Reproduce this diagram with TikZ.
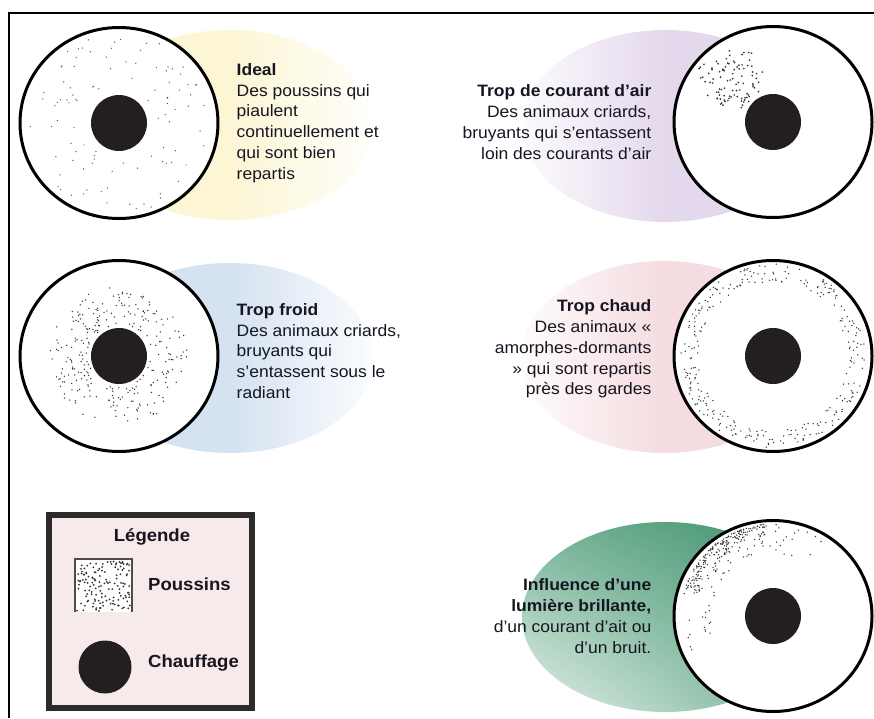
\documentclass[tikz,border=0pt]{standalone}
\usepackage{fontspec}
\setmainfont{Liberation Sans}[FakeStretch=1.06]
\usetikzlibrary{positioning,shapes.geometric,shadings}

\definecolor{ink}{RGB}{22,22,34}
\definecolor{heat}{RGB}{35,31,32}
\definecolor{idealtint}{RGB}{252,246,212}
\definecolor{drafttint}{RGB}{228,216,236}
\definecolor{coldtint}{RGB}{212,226,241}
\definecolor{hottint}{RGB}{244,220,224}
\definecolor{legendpink}{RGB}{247,234,234}
\definecolor{glowdark}{RGB}{62,145,108}
\definecolor{glowmid}{RGB}{120,180,152}
\definecolor{glowpale}{RGB}{228,240,233}

\begin{document}
\begin{tikzpicture}[x=1pt,y=-1pt,
    brooder/.style={ellipse,draw=black,line width=3pt,fill=white,
      minimum width=198pt,minimum height=191pt,inner sep=0pt},
    heater/.style={circle,fill=heat,minimum size=56pt,inner sep=0pt},
    caption/.style={font=\fontsize{16.5}{20.8}\selectfont,text=ink,inner sep=0pt},
    legendtxt/.style={font=\fontsize{17.5}{20}\selectfont\bfseries,text=ink,inner sep=0pt},
    chick/.style={fill=black!80}]
  \useasboundingbox (0,0) rectangle (874,718);
  \draw[line width=1.3pt] (9,718) -- (9,13) -- (874,13);

  % glow behind each brooder
  \shade[left color=idealtint,right color=idealtint!10,middle color=idealtint]
    (230,125) ellipse [x radius=143,y radius=95];
  \shade[left color=drafttint!10,right color=drafttint,middle color=drafttint]
    (665,126) ellipse [x radius=143,y radius=96];
  \shade[left color=coldtint,right color=coldtint!10,middle color=coldtint]
    (230,358) ellipse [x radius=143,y radius=95];
  \shade[left color=hottint!10,right color=hottint,middle color=hottint]
    (664,357) ellipse [x radius=143,y radius=96];
  \shade[upper left=glowmid,upper right=glowdark,lower left=glowpale,lower right=glowmid]
    (665,617) ellipse [x radius=143,y radius=95];

  \node[brooder] (ideal) at (119,123) {};
  \node[brooder] (draft) at (773,122) {};
  \node[brooder] (cold)  at (119,356) {};
  \node[brooder] (hot)   at (773,356) {};
  \node[brooder] (light) at (773,616) {};

  % chicks
  \pgfmathsetseed{7}
  \foreach \i in {1,...,100} {
    \pgfmathsetmacro\ang{360*rnd}
    \pgfmathsetmacro\rad{sqrt(35^2+rnd*(90^2-35^2))}
    \fill[chick,black!65] (ideal.center) ++(\ang:\rad pt) circle[radius=0.7];
  }
  \begin{scope}
    \clip (draft.center) circle[radius=92pt];
    \coordinate (gust) at (730,80);
    \foreach \i in {1,...,100} {
      \pgfmathsetmacro\ang{360*rnd}
      \pgfmathsetmacro\rad{40*sqrt(rnd)*(0.6+0.4*rnd)}
      \fill[chick] (gust) ++(\ang:\rad pt) circle[radius=0.95];
    }
  \end{scope}
  \foreach \i in {1,...,270} {
    \pgfmathsetmacro\ang{360*rnd}
    \pgfmathsetmacro\rad{31+38*rnd}
    \fill[chick] (cold.center) ++(\ang:\rad pt) circle[radius=0.75];
  }
  \foreach \i in {1,...,300} {
    \pgfmathsetmacro\ang{360*rnd}
    \pgfmathsetmacro\rad{74+18*rnd}
    \fill[chick] (hot.center) ++(\ang:\rad pt) circle[radius=0.75];
  }
  \foreach \i in {1,...,200} {
    \pgfmathsetmacro\ang{95+70*rnd}
    \pgfmathsetmacro\rad{92-22*rnd*rnd}
    \fill[chick] (light.center) ++(\ang:\rad pt) circle[radius=0.75];
  }
  \foreach \i in {1,...,70} {
    \pgfmathsetmacro\ang{55+150*rnd}
    \pgfmathsetmacro\rad{92-30*rnd}
    \fill[chick] (light.center) ++(\ang:\rad pt) circle[radius=0.75];
  }

  \foreach \b in {ideal,draft,cold,hot,light}
    \node[heater] at (\b.center) {};

  % captions
  \node[caption,align=left,right=17pt of ideal] (idealtxt)
    {\textbf{Ideal}\\Des poussins qui\\piaulent\\continuellement et\\qui sont bien\\repartis};
  \node[caption,align=right,left=21pt of draft] (drafttxt)
    {\textbf{Trop de courant d'air}\\Des animaux criards,\\bruyants qui s'entassent\\loin des courants d'air};
  \node[caption,align=left,right=17pt of cold,yshift=5pt] (coldtxt)
    {\textbf{Trop froid}\\Des animaux criards,\\bruyants qui\\s'entassent sous le\\radiant};
  \node[caption,align=right,left=21pt of hot,yshift=7pt] (hottxt)
    {\textbf{Trop chaud}\\Des animaux «\\amorphes-dormants\\» qui sont repartis\\près des gardes};
  \node[caption,align=right,left=21pt of light] (lighttxt)
    {\textbf{Influence d'une}\\\textbf{lumière brillante,}\\d'un courant d'ait ou\\d'un bruit.};

  % legend
  \node[draw=heat!95,line width=6pt,fill=legendpink,minimum width=203pt,
    minimum height=193pt,inner sep=0pt] (legend) at (150.5,611.5) {};
  \node[legendtxt] (legtitle) at (152,537) {Légende};
  \fill[white] (75,559) rectangle (132,612);
  \foreach \i in {1,...,140}
    \fill[chick] (77+53*rnd,561+50*rnd) circle[radius=1];
  \draw[line width=1.3pt,black!70] (75,612) -- (75,559) -- (132,559) -- (132,612);
  \node[heater,minimum size=53pt] (legheat) at (105,667) {};
  \node[legendtxt,anchor=west] (legchick) at (148,584) {Poussins};
  \node[legendtxt,anchor=west] (legwarm) at (148,663) {Chauffage};
\end{tikzpicture}
\end{document}
